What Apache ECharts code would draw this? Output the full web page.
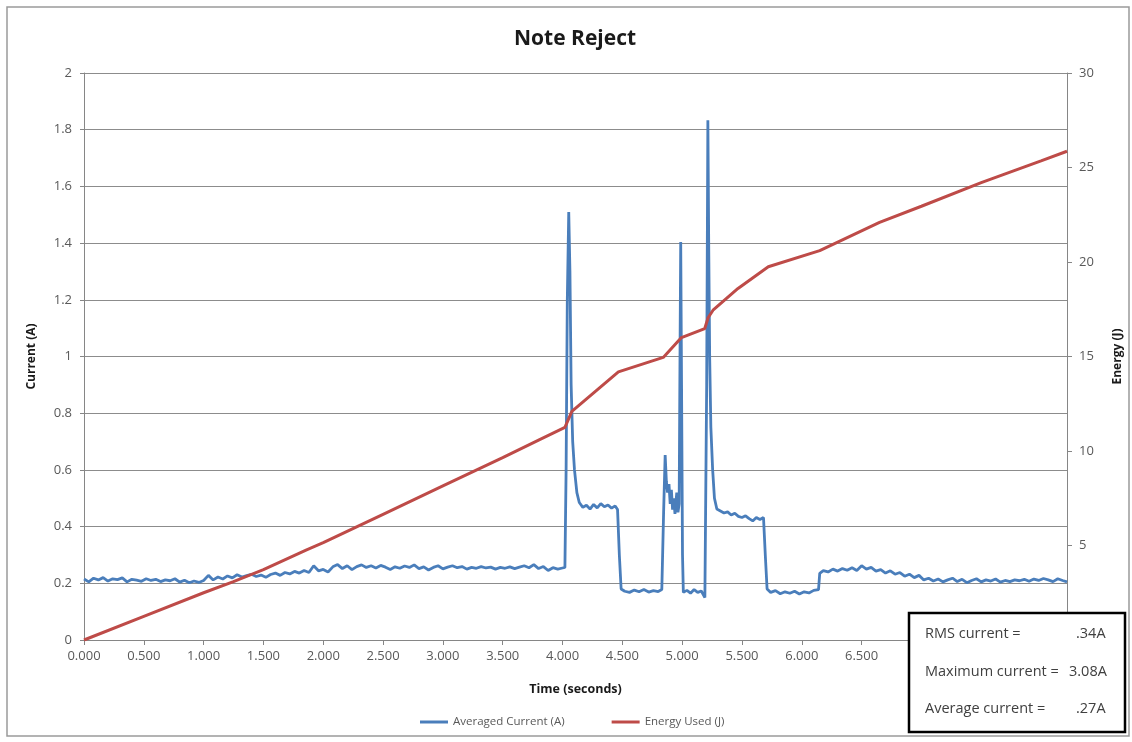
<!DOCTYPE html>
<html>
<head>
<meta charset="utf-8">
<script src="https://cdn.jsdelivr.net/npm/echarts@6/dist/echarts.min.js"></script>
<style>
html,body{margin:0;padding:0;background:#fff;}
#chart{width:1132px;height:742px;}
</style>
</head>
<body>
<div id="chart"></div>
<script>
// ---- data ----
const currentTime = [
  0.00,0.04,0.08,0.12,0.16,0.20,0.24,0.28,0.32,0.36,0.40,0.44,0.48,0.52,0.56,0.60,0.64,0.68,0.72,0.76,0.80,0.84,0.88,0.92,0.96,1.00,
  1.04,1.08,1.12,1.16,1.20,1.24,1.28,1.32,1.36,1.40,1.44,1.48,1.52,1.56,1.60,1.64,1.68,1.72,1.76,1.80,1.84,1.88,1.92,1.96,2.00,
  2.04,2.08,2.12,2.16,2.20,2.24,2.28,2.32,2.36,2.40,2.44,2.48,2.52,2.56,2.60,2.64,2.68,2.72,2.76,2.80,2.84,2.88,2.92,2.96,3.00,
  3.04,3.08,3.12,3.16,3.20,3.24,3.28,3.32,3.36,3.40,3.44,3.48,3.52,3.56,3.60,3.64,3.68,3.72,3.76,3.80,3.84,3.88,3.92,3.96,4.00,4.02,
  4.030,4.040,4.052,4.062,4.072,4.085,4.100,4.120,4.140,4.17,4.20,4.23,4.26,4.29,4.32,4.35,4.38,4.41,4.44,4.46,4.475,
  4.49,4.52,4.56,4.60,4.64,4.68,4.72,4.76,4.80,4.83,
  4.845,4.858,4.868,4.878,4.89,4.90,4.91,4.92,4.93,4.94,4.955,4.965,4.975,4.982,4.988,4.995,5.003,
  5.010,5.04,5.07,5.10,5.13,5.16,5.19,
  5.205,5.215,5.222,5.230,5.240,5.255,5.270,5.29,5.32,5.35,5.38,5.41,5.44,5.47,5.50,5.53,5.56,5.59,5.62,5.65,5.68,5.695,
  5.71,5.74,5.78,5.82,5.86,5.90,5.94,5.98,6.02,6.06,6.10,6.14,
  6.15,6.18,6.22,6.26,6.30,6.34,6.38,6.42,6.46,6.50,6.54,6.58,6.62,6.66,6.70,6.74,6.78,6.82,6.86,6.90,6.94,6.98,
  7.02,7.06,7.10,7.14,7.18,7.22,7.26,7.30,7.34,7.38,7.42,7.46,7.50,7.54,7.58,7.62,7.66,7.70,7.74,7.78,7.82,7.86,7.90,7.94,7.98,
  8.02,8.06,8.10,8.14,8.18,8.217
];
const currentAmps = [
  0.215,0.205,0.218,0.212,0.220,0.208,0.216,0.213,0.219,0.205,0.214,0.211,0.207,0.216,0.210,0.214,0.206,0.212,0.209,0.216,0.204,0.211,0.202,0.208,0.203,0.210,
  0.228,0.212,0.222,0.215,0.226,0.219,0.230,0.222,0.227,0.232,0.224,0.229,0.221,0.231,0.236,0.228,0.238,0.233,0.242,0.236,0.245,0.238,0.262,0.244,0.249,
  0.240,0.258,0.266,0.252,0.262,0.248,0.259,0.265,0.256,0.262,0.254,0.263,0.257,0.249,0.258,0.253,0.261,0.256,0.265,0.252,0.258,0.247,0.256,0.262,0.251,
  0.257,0.262,0.255,0.259,0.250,0.256,0.253,0.259,0.254,0.257,0.250,0.256,0.253,0.258,0.252,0.257,0.262,0.255,0.266,0.252,0.259,0.245,0.255,0.250,0.254,0.256,
  0.60,1.20,1.51,1.30,0.90,0.70,0.60,0.52,0.485,0.468,0.475,0.462,0.478,0.466,0.481,0.470,0.476,0.465,0.473,0.460,0.30,
  0.180,0.172,0.168,0.176,0.170,0.178,0.169,0.174,0.171,0.178,
  0.45,0.652,0.56,0.52,0.55,0.48,0.53,0.46,0.50,0.445,0.52,0.45,0.48,1.00,1.404,0.90,0.30,
  0.168,0.175,0.165,0.178,0.168,0.173,0.150,
  0.90,1.833,1.40,1.00,0.75,0.60,0.50,0.462,0.455,0.448,0.452,0.441,0.447,0.436,0.432,0.438,0.428,0.420,0.432,0.425,0.432,0.30,
  0.180,0.168,0.174,0.163,0.170,0.165,0.172,0.162,0.170,0.166,0.175,0.178,
  0.235,0.245,0.240,0.250,0.243,0.252,0.246,0.255,0.245,0.262,0.250,0.256,0.243,0.248,0.236,0.244,0.232,0.238,0.225,0.232,0.220,0.228,
  0.212,0.218,0.208,0.215,0.205,0.212,0.218,0.206,0.214,0.202,0.210,0.216,0.205,0.212,0.208,0.215,0.204,0.210,0.206,0.212,0.209,0.214,0.207,0.215,0.210,
  0.217,0.212,0.206,0.216,0.210,0.205
];
const energyTime   = [0, 0.5, 1.0, 1.244, 1.5, 1.856, 2.0, 2.5, 3.0, 3.5, 3.8, 4.02, 4.078, 4.467, 4.842, 4.994, 5.189, 5.217, 5.258, 5.467, 5.72, 6.15, 6.65, 7.0, 7.5, 8.0, 8.217];
const energyJoules = [0, 1.25, 2.5, 3.08, 3.72, 4.76, 5.15, 6.65, 8.15, 9.65, 10.58, 11.25, 12.1, 14.19, 14.95, 16.0, 16.48, 17.05, 17.45, 18.6, 19.75, 20.6, 22.1, 22.95, 24.2, 25.35, 25.86];
const seriesNames = ['Averaged Current (A)', 'Energy Used (J)'];
const statLabels = ['RMS current =', 'Maximum current =', 'Average current ='];
const statValues = ['.34A', '3.08A', '.27A'];
const titleText = 'Note Reject';
const lastVisibleTimeLabel = 6.5; // labels further right sit under the stats box

const FONT = '"Open Sans", "Liberation Sans", sans-serif';
const chart = echarts.init(document.getElementById('chart'), null, {renderer: 'canvas'});

const statsChildren = [
  {type: 'rect', z: 1000, shape: {x: 0, y: 0, width: 216, height: 119}, style: {fill: '#fff', stroke: '#000', lineWidth: 2.5}}
];
const valueX = [167, 160, 167];
statLabels.forEach((s, i) => {
  statsChildren.push({type: 'text', z: 1001, x: 16, y: 21 + i * 37.5, style: {text: s, font: '14.5px ' + FONT, fill: '#404040', verticalAlign: 'middle'}});
  statsChildren.push({type: 'text', z: 1001, x: valueX[i], y: 21 + i * 37.5, style: {text: statValues[i], font: '14.5px ' + FONT, fill: '#404040', verticalAlign: 'middle'}});
});

chart.setOption({
  animation: false,
  backgroundColor: '#fff',
  title: {
    text: titleText, left: 509, top: 24,
    textStyle: {fontFamily: FONT, fontSize: 21, fontWeight: 'bold', color: '#1a1a1a'}
  },
  grid: {left: 84, right: 62, top: 73, bottom: 102, containLabel: false},
  legend: {
    left: 415, top: 711, itemGap: 47, itemWidth: 28, itemHeight: 3, icon: 'rect',
    textStyle: {fontFamily: FONT, fontSize: 11.5, color: '#595959'},
    data: seriesNames
  },
  xAxis: {
    type: 'value', min: 0, max: 8.217, interval: 0.5,
    name: 'Time (seconds)', nameLocation: 'middle', nameGap: 43,
    nameTextStyle: {fontFamily: FONT, fontSize: 12.5, fontWeight: 'bold', color: '#1a1a1a'},
    axisLine: {show: true, lineStyle: {color: '#868686', width: 1}},
    axisTick: {show: true, length: 5, lineStyle: {color: '#868686'}},
    axisLabel: {fontFamily: FONT, fontSize: 13, color: '#595959', margin: 10,
      formatter: v => (v > lastVisibleTimeLabel + 1e-9 ? '' : v.toFixed(3))},
    splitLine: {show: false}
  },
  yAxis: [
    {
      type: 'value', min: 0, max: 2, interval: 0.2,
      name: 'Current (A)', nameLocation: 'middle', nameGap: 46, nameRotate: 90,
      nameTextStyle: {fontFamily: FONT, fontSize: 12, fontWeight: 'bold', color: '#1a1a1a'},
      axisLine: {show: true, lineStyle: {color: '#868686', width: 1}},
      axisTick: {show: true, length: 4, lineStyle: {color: '#868686'}},
      axisLabel: {fontFamily: FONT, fontSize: 13, color: '#595959', margin: 12},
      splitLine: {show: true, lineStyle: {color: '#8c8c8c', width: 1.2}}
    },
    {
      type: 'value', min: 0, max: 30, interval: 5, position: 'right',
      name: 'Energy (J)', nameLocation: 'middle', nameGap: 45, nameRotate: 90,
      nameTextStyle: {fontFamily: FONT, fontSize: 12, fontWeight: 'bold', color: '#1a1a1a'},
      axisLine: {show: true, lineStyle: {color: '#868686', width: 1}},
      axisTick: {show: true, length: 5, lineStyle: {color: '#868686'}},
      axisLabel: {fontFamily: FONT, fontSize: 13, color: '#595959', margin: 12},
      splitLine: {show: false}
    }
  ],
  series: [
    {
      name: seriesNames[0], type: 'line', yAxisIndex: 0, showSymbol: false, symbol: 'none',
      data: currentTime.map((t, i) => [t, currentAmps[i]]),
      lineStyle: {color: '#4a7ebb', width: 2.8}, itemStyle: {color: '#4a7ebb'}, z: 2
    },
    {
      name: seriesNames[1], type: 'line', yAxisIndex: 1, showSymbol: false, symbol: 'none',
      data: energyTime.map((t, i) => [t, energyJoules[i]]),
      lineStyle: {color: '#be4b48', width: 3}, itemStyle: {color: '#be4b48'}, z: 3
    }
  ],
  graphic: [
    {type: 'rect', z: 900, silent: true, shape: {x: 7, y: 7, width: 1122, height: 729}, style: {fill: 'none', stroke: '#9a9a9a', lineWidth: 1.5}},
    {type: 'group', x: 909, y: 613, z: 1000, children: statsChildren}
  ]
});
</script>
</body>
</html>
